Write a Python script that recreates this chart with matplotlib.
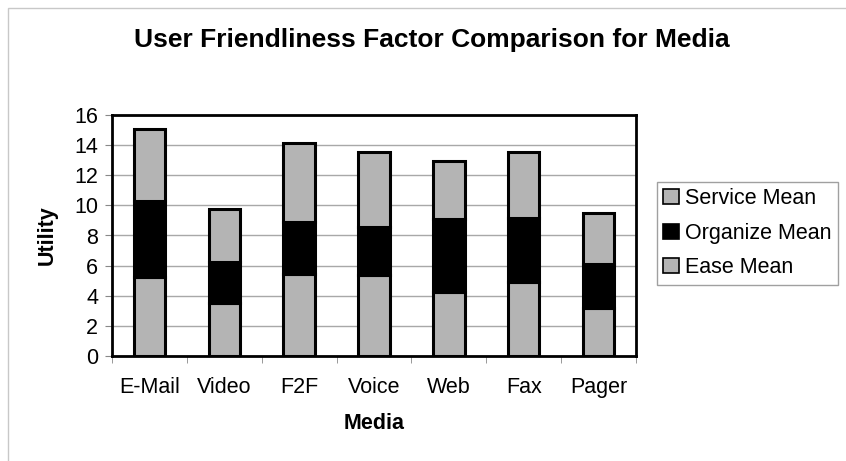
import matplotlib.pyplot as plt
import numpy as np
from matplotlib.patches import Rectangle

plt.rcParams['font.family'] = ['Liberation Sans', 'DejaVu Sans']

media = ['E-Mail', 'Video', 'F2F', 'Voice', 'Web', 'Fax', 'Pager']
ease_mean = [5.22, 3.50, 5.44, 5.38, 4.23, 4.94, 3.17]
organize_mean = [5.09, 2.76, 3.43, 3.16, 4.87, 4.20, 2.94]
service_mean = [4.74, 3.50, 5.25, 5.03, 3.83, 4.38, 3.36]

W, H = 846, 461
fig = plt.figure(figsize=(W / 100, H / 100), dpi=100)
ax = fig.add_axes([112 / W, 1 - 356 / H, 524 / W, 241 / H])

# faint frame around the whole chart area
fig.patches.append(Rectangle((8 / W, -0.05), 1.0, 1 - 8 / H + 0.05,
                             transform=fig.transFigure, fill=False,
                             edgecolor='#c8c8c8', linewidth=1.0))

x = np.arange(len(media))
gray = '#b4b4b4'
bw = 0.42
ease = np.array(ease_mean)
org = np.array(organize_mean)
serv = np.array(service_mean)

b1 = ax.bar(x, ease, bw, color=gray, edgecolor='black', linewidth=2.2,
            label='Ease Mean', zorder=3)
b2 = ax.bar(x, org, bw, bottom=ease, color='black', edgecolor='black',
            linewidth=2.2, label='Organize Mean', zorder=3)
b3 = ax.bar(x, serv, bw, bottom=ease + org, color=gray, edgecolor='black',
            linewidth=2.2, label='Service Mean', zorder=3)

ax.set_xlim(-0.5, len(media) - 0.5)
ax.set_ylim(0, 16)
ax.set_yticks(np.arange(0, 17, 2))
ax.yaxis.grid(True, color='#a8a8a8', linewidth=1.0, zorder=0)
ax.set_xticks(x)
ax.set_xticklabels(media, fontsize=15.5)
ax.set_xticks(np.arange(-0.5, len(media)), minor=True)
ax.tick_params(axis='x', which='major', length=0, pad=15)
ax.tick_params(axis='x', which='minor', length=5, color='#888888')
ax.tick_params(axis='y', labelsize=15.5, length=5, color='#888888', pad=5)
for s in ax.spines.values():
    s.set_linewidth(2.0)

ax.set_xlabel('Media', fontsize=15.5, fontweight='bold', labelpad=11)
ax.set_ylabel('Utility', fontsize=15.5, fontweight='bold', labelpad=12)
fig.text(432 / W, 1 - 40 / H, 'User Friendliness Factor Comparison for Media',
         ha='center', va='center', fontsize=19, fontweight='bold')

leg = fig.legend(handles=[b3, b2, b1],
                 labels=['Service Mean', 'Organize Mean', 'Ease Mean'],
                 loc='upper left', bbox_to_anchor=(657 / W, 1 - 182 / H),
                 fontsize=15.5, frameon=True, fancybox=False, edgecolor='#888888',
                 handlelength=0.7, handleheight=0.7, handletextpad=0.3,
                 labelspacing=0.62, borderpad=0.3, borderaxespad=0)
leg.get_frame().set_linewidth(1.0)
for h in leg.legend_handles:
    h.set_linewidth(1.2)

fig.savefig('out.png', dpi=100)
